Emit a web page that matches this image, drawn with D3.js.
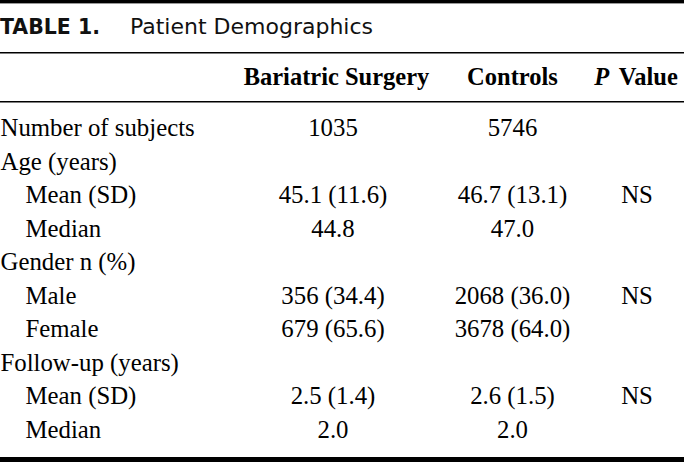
<!DOCTYPE html>
<html><head><meta charset="utf-8">
<script src="https://cdn.jsdelivr.net/npm/d3@7"></script>
<style>html,body{margin:0;padding:0;background:#fff;}svg{display:block;}</style>
</head><body><svg id="c" width="684" height="463"></svg>
<script>
const titleBold = "TABLE 1.";
const titleText = "Patient Demographics";
const headers = ["Bariatric Surgery", "Controls", "P Value"];
const rowLabels = ["Number of subjects","Age (years)","Mean (SD)","Median","Gender n (%)","Male","Female","Follow-up (years)","Mean (SD)","Median"];
const indented = [false,false,true,true,false,true,true,false,true,true];
const bariatric = ["1035","","45.1 (11.6)","44.8","","356 (34.4)","679 (65.6)","","2.5 (1.4)","2.0"];
const controls = ["5746","","46.7 (13.1)","47.0","","2068 (36.0)","3678 (64.0)","","2.6 (1.5)","2.0"];
const pValues = ["","","NS","","","NS","","","NS",""];

const W = 684, H = 463;
const svg = d3.select("#c");
const serif = "'Liberation Serif','Times New Roman',serif";
const sans = "'DejaVu Sans',sans-serif";

const colX = d3.scaleOrdinal().domain(["b","c","p"]).range([333, 512.5, 637]);
const headX = d3.scaleOrdinal().domain(headers).range([336.5, 512.5, 636]);
const y = d3.scalePoint().domain(d3.range(rowLabels.length)).range([136, 438]);

// rules
const rule = (yy, w) => svg.append("rect").attr("x",0).attr("y",yy).attr("width",W).attr("height",w).attr("fill","#000");
rule(0, 3.4);
rule(52, 1.5);
rule(101, 1.5);
rule(457, 5);

// title
svg.append("text").attr("x",0).attr("y",33.5).attr("font-family",sans).attr("font-size",22)
  .attr("font-weight","bold").attr("fill","#111").attr("textLength",100).attr("lengthAdjust","spacingAndGlyphs").text(titleBold);
svg.append("text").attr("x",130).attr("y",33.5).attr("font-family",sans).attr("font-size",22)
  .attr("fill","#111").attr("textLength",243).attr("lengthAdjust","spacing").text(titleText);

// header
const hdr = svg.append("g").attr("font-family",serif).attr("font-weight","bold").attr("font-size",24.5).attr("fill","#000");
hdr.selectAll("text").data(headers).join("text")
  .attr("x",d=>headX(d)).attr("y",84.5).attr("text-anchor","middle")
  .each(function(d){
    const s = d3.select(this);
    if (d.startsWith("P ")) { s.append("tspan").attr("font-style","italic").text("P"); s.append("tspan").attr("dx",4).text(" Value"); }
    else s.text(d);
  });

const body = svg.append("g").attr("font-family",serif).attr("font-size",24.8).attr("fill","#000");
body.selectAll("text.lab").data(rowLabels).join("text").attr("class","lab")
  .attr("x",(d,i)=>indented[i]?25.5:0.5).attr("y",(d,i)=>y(i)).text(d=>d);
[["b",bariatric],["c",controls],["p",pValues]].forEach(([k, arr]) => {
  body.selectAll("text.c"+k).data(arr).join("text").attr("class","c"+k)
    .attr("x",colX(k)).attr("y",(d,i)=>y(i)).attr("text-anchor","middle").text(d=>d);
});
</script></body></html>
